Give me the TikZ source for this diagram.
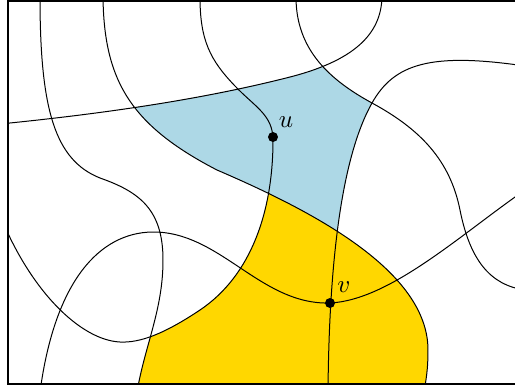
\documentclass[tikz,border=0pt]{standalone}
\usetikzlibrary{positioning}
\definecolor{skyfill}{RGB}{173,216,230}
\definecolor{goldfill}{RGB}{255,215,0}
% the seven curves, in picture units (y runs down)
\newcommand{\curveA}{(40,-3) .. controls (40,110) and (55,160) .. (100,178) .. controls (140,192) and (163,210) .. (163,260) .. controls (163,310) and (145,345) .. (137,392)}
\newcommand{\curveB}{(103,-3) .. controls (104,80) and (130,125) .. (217,170) .. controls (310,210) and (428,270) .. (428,350) .. controls (428,370) and (426,380) .. (424,392)}
\newcommand{\curveC}{(200,-3) .. controls (200,40) and (210,60) .. (235,86) .. controls (255,107) and (273,115) .. (273,140) .. controls (273,210) and (252,275) .. (200,310) .. controls (164,334) and (140,343) .. (120,342) .. controls (80,340) and (30,290) .. (0,215)}
\newcommand{\curveD}{(0,124) .. controls (100,114) and (200,100) .. (290,77) .. controls (360,59) and (382,30) .. (382,-5)}
\newcommand{\curveE}{(296,-3) .. controls (296,50) and (330,80) .. (372,103) .. controls (420,129) and (450,160) .. (460,210) .. controls (470,260) and (490,285) .. (525,290)}
\newcommand{\curveF}{(328,392) .. controls (329,270) and (340,160) .. (372,103) .. controls (394,64) and (430,52) .. (525,66)}
\newcommand{\curveG}{(40,392) .. controls (55,280) and (100,233) .. (152,232) .. controls (220,231) and (260,305) .. (330,303) .. controls (390,300) and (460,235) .. (525,190)}
\begin{document}
\begin{tikzpicture}[x=0.4pt,y=-0.4pt,
  curve/.style={line width=0.4pt},
  frameline/.style={line width=0.8pt},
  dot/.style={circle,fill,inner sep=0pt,minimum size=4pt}]
\useasboundingbox (0,0) rectangle (515,389);
\begin{scope}
\clip (8,0) rectangle (515,384);
% blue face
\begin{scope}
\clip \curveD -- (382,-50) -- (600,-50) -- (600,450) -- (-50,450) -- (-50,124) -- cycle;
\clip \curveB -- (424,450) -- (600,450) -- (600,-50) -- (103,-50) -- cycle;
\clip \curveE -- (600,290) -- (600,450) -- (-50,450) -- (-50,-50) -- (296,-50) -- cycle;
\clip \curveF -- (600,66) -- (600,-50) -- (-50,-50) -- (-50,450) -- (328,450) -- cycle;
\fill[skyfill] (0,0) rectangle (515,389);
\end{scope}
% yellow face
\begin{scope}
\clip \curveC -- (-50,215) -- (-50,450) -- (600,450) -- (600,-50) -- (200,-50) -- cycle;
\clip \curveB -- (424,450) -- (-50,450) -- (-50,-50) -- (103,-50) -- cycle;
\clip \curveA -- (137,450) -- (600,450) -- (600,-50) -- (40,-50) -- cycle;
\fill[goldfill] (0,0) rectangle (515,389);
\end{scope}
\foreach \c in {\curveA,\curveB,\curveC,\curveD,\curveE,\curveF,\curveG}
  \draw[curve] \c;
\end{scope}
\draw[frameline] (515,384) -- (8,384) -- (8,0.5) -- (515,0.5);
\node[dot] (u) at (273,137) {};
\node[dot] (v) at (330,303) {};
\node (ulab) at (286,122) {$u$};
\node (vlab) at (344,287) {$v$};
\end{tikzpicture}
\end{document}
